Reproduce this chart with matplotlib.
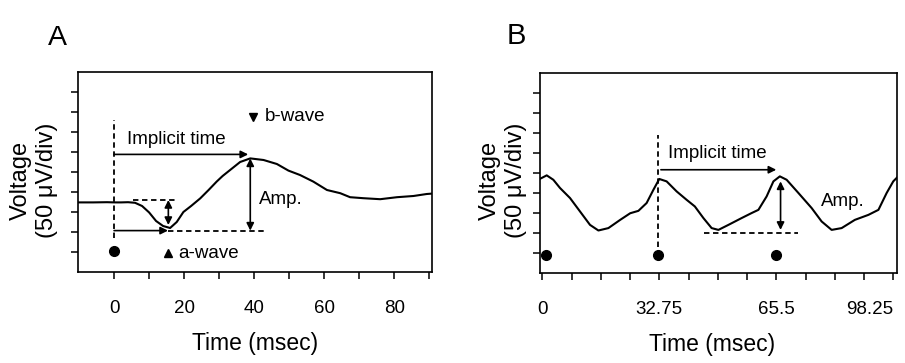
import numpy as np
import matplotlib.pyplot as plt

plt.rcParams['font.family'] = ['Liberation Sans', 'DejaVu Sans']

# A : reponse a un flash unique (temps en msec, tension en divisions)
temps_a = [-10.3, -6, -2, 0, 2, 4, 6, 8, 10, 12, 14, 16, 17.9, 19.8, 22, 24.6,
           27, 29.3, 31, 33.5, 36, 38.9, 42.7, 46.5, 49.8, 53.1, 56.9, 60.8,
           64.6, 67.4, 71.2, 76, 80.8, 85.5, 89.3, 90.8]
tension_a = [3.48, 3.48, 3.49, 3.48, 3.48, 3.49, 3.46, 3.3, 2.98, 2.55, 2.3, 2.2,
             2.5, 3.0, 3.3, 3.68, 4.1, 4.52, 4.8, 5.15, 5.5, 5.68, 5.6, 5.4,
             5.07, 4.85, 4.52, 4.1, 3.94, 3.74, 3.69, 3.64, 3.74, 3.8, 3.9, 3.92]

# B : flicker
temps_b = [-0.65, -0.17, 1.23, 3.08, 4.95, 7.75, 10.55, 13.35, 15.7, 18.5, 21.8,
           24.6, 26.9, 29.2, 31.1, 32.75, 34.8, 37.6, 40.4, 42.7, 45.1, 47.4,
           49.3, 52.1, 55.8, 58.6, 60.5, 62.8, 64.7, 66.5, 68.4, 71.7, 75.4,
           78.2, 81.0, 83.8, 87.5, 91.3, 94.1, 96.4, 98.25, 99.3]
tension_b = [4.7, 4.74, 4.87, 4.65, 4.24, 3.74, 3.07, 2.4, 2.12, 2.24, 2.65,
             2.98, 3.1, 3.49, 4.15, 4.69, 4.57, 4.07, 3.65, 3.32, 2.74, 2.24,
             2.15, 2.4, 2.74, 2.99, 3.15, 3.82, 4.57, 4.82, 4.65, 3.99, 3.24,
             2.57, 2.15, 2.24, 2.65, 2.9, 3.15, 3.99, 4.57, 4.76]
flashs_b = [0.9, 32.5, 65.5]

ticks_a = np.arange(0, 91, 10)
labels_a = ['0', '', '20', '', '40', '', '60', '', '80', '']
ticks_b = np.arange(13) * 8.1875
labels_b = ['0', '', '', '', '32.75', '', '', '', '65.5', '', '', '', '98.25']

TAILLE_ANNOT = 13.5
TIRETS = (3.0, 2.0)


def fleche(ax, x0, y0, x1, y1, double=False):
    style = '<|-|>' if double else '-|>'
    ax.annotate('', xy=(x1, y1), xytext=(x0, y0),
                arrowprops=dict(arrowstyle=style, color='k', lw=1.2,
                                mutation_scale=11, shrinkA=0, shrinkB=0))


def tirets(ax, xs, ys):
    ax.plot(xs, ys, color='k', lw=1.3, ls=(0, TIRETS))


def preparer_axe(ax, xlim, ticks, labels):
    ax.set_xlim(*xlim)
    ax.set_ylim(0, 10)
    ax.set_xticks(ticks)
    ax.set_xticklabels(labels)
    ax.set_yticks(np.arange(1, 10))
    ax.set_yticklabels([])
    ax.tick_params(direction='out', length=5, width=1.1, labelsize=13.5, pad=15)
    for s in ax.spines.values():
        s.set_linewidth(1.2)


fig = plt.figure(figsize=(9.05, 3.63), dpi=100)

# ---- A
ax = fig.add_axes([78 / 905, 91 / 363, 354 / 905, 200 / 363])
preparer_axe(ax, (-10.3, 90.8), ticks_a, labels_a)
ax.plot(temps_a, tension_a, color='k', lw=1.5)
tirets(ax, [0, 0], [1.68, 7.6])
tirets(ax, [5.5, 18.4], [3.6, 3.6])
tirets(ax, [15.5, 42.7], [2.05, 2.05])
ax.plot(0, 1.07, 'o', color='k', ms=7)
fleche(ax, 0, 5.88, 38.3, 5.88)
fleche(ax, 0, 2.07, 15.4, 2.07)
fleche(ax, 15.5, 3.6, 15.5, 2.35, double=True)
fleche(ax, 38.9, 5.68, 38.9, 2.07, double=True)
ax.text(3.6, 6.63, 'Implicit time', fontsize=TAILLE_ANNOT, va='center')
ax.text(41.5, 3.6, 'Amp.', fontsize=TAILLE_ANNOT, va='center')
ax.plot(39.6, 7.77, 'v', color='k', ms=6)
ax.text(43.1, 7.77, 'b-wave', fontsize=TAILLE_ANNOT, va='center')
ax.plot(15.3, 0.93, '^', color='k', ms=6)
ax.text(18.3, 0.93, 'a-wave', fontsize=TAILLE_ANNOT, va='center')
ax.set_xlabel('Time (msec)', fontsize=16.5, va='top')
ax.xaxis.set_label_coords(0.5, -0.30)
fig.text(34 / 905, 0.504, 'Voltage\n(50 μV/div)', rotation=90, fontsize=17,
         ha='center', va='center', multialignment='center')
fig.text(48 / 905, (363 - 45) / 363, 'A', fontsize=20.5, va='baseline')

# ---- B
ax = fig.add_axes([540 / 905, 90 / 363, 357 / 905, 200.5 / 363])
preparer_axe(ax, (-0.65, 99.3), ticks_b, labels_b)
ax.get_xticklabels()[-1].set_horizontalalignment('right')
ax.plot(temps_b, tension_b, color='k', lw=1.5)
tirets(ax, [32.5, 32.5], [1.3, 6.9])
tirets(ax, [45.2, 71.6], [1.98, 1.98])
ax.plot(flashs_b, [0.9] * len(flashs_b), 'o', color='k', ms=7, ls='none')
fleche(ax, 33.2, 5.15, 65.5, 5.15)
fleche(ax, 66.7, 4.57, 66.7, 2.15, double=True)
ax.text(35.2, 5.95, 'Implicit time', fontsize=TAILLE_ANNOT, va='center')
ax.text(77.9, 3.57, 'Amp.', fontsize=TAILLE_ANNOT, va='center')
ax.set_xlabel('Time (msec)', fontsize=16.5, va='top')
ax.xaxis.set_label_coords(0.482, -0.30)
fig.text(503 / 905, 0.504, 'Voltage\n(50 μV/div)', rotation=90, fontsize=17,
         ha='center', va='center', multialignment='center')
fig.text(507 / 905, (363 - 44) / 363, 'B', fontsize=21, va='baseline')

fig.savefig('out.png', dpi=100)
